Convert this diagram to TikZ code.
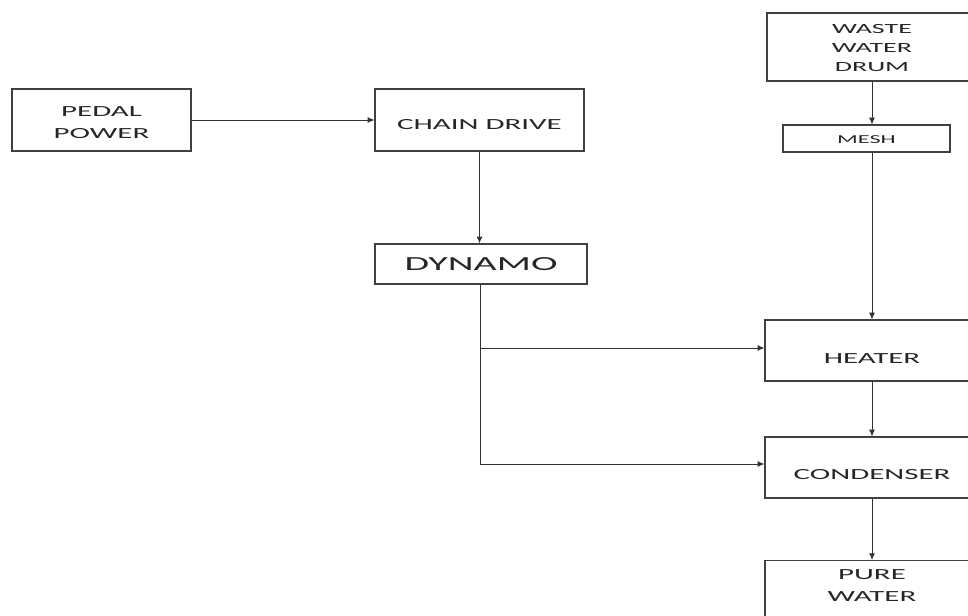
\documentclass[tikz,border=0pt]{standalone}
\usepackage{fontspec}
\setmainfont{Carlito}
\usepackage{graphicx}
\usetikzlibrary{arrows.meta}

% stretched caption text, as in the original drawing
\newcommand{\wtxt}[2][0pt]{\raisebox{-#1}[0pt][0pt]{\scalebox{2}[1]{\begin{tabular}{@{}c@{}}#2\end{tabular}}}}

\begin{document}
\begin{tikzpicture}[x=0.75pt,y=0.75pt,yscale=-1,xscale=1,
  blk/.style={draw=black!75, line width=0.9pt, inner sep=0pt, text=black!85,
    font=\fontsize{11.6}{16.5}\selectfont},
  flow/.style={draw=black!80, line width=0.7pt, -{Latex[length=5pt,width=4.5pt]}},
  feed/.style={draw=black!80, line width=0.7pt}]

\useasboundingbox (0,0) rectangle (968,615);
\clip (0,0) rectangle (968,615);

\node[blk, minimum width=134.25pt, minimum height=46.5pt] (pedal) at (101.5,120) {\wtxt[5.2pt]{PEDAL\\POWER}};
\node[blk, minimum width=156.75pt, minimum height=46.5pt] (chain) at (479.5,120) {\wtxt[6.7pt]{CHAIN DRIVE}};
\node[blk, minimum width=159pt, minimum height=30pt, font=\fontsize{15}{18}\selectfont] (dynamo) at (481,264) {\wtxt[4.5pt]{DYNAMO}};

\node[blk, minimum width=157.5pt, minimum height=51pt, font=\fontsize{10.5}{14.25}\selectfont] (drum) at (872,47) {\wtxt[3.75pt]{WASTE\\WATER\\DRUM}};
\node[blk, minimum width=125.25pt, minimum height=20.25pt, font=\fontsize{9.1}{11}\selectfont] (mesh) at (866.5,138.5) {\wtxt[4.1pt]{MESH}};
\node[blk, minimum width=160.5pt, minimum height=45.75pt] (heater) at (872,350.5) {\wtxt[9.7pt]{HEATER}};
\node[blk, minimum width=160.5pt, minimum height=45.75pt] (condenser) at (872,467.5) {\wtxt[8.9pt]{CONDENSER}};
\node[blk, minimum width=160.5pt, anchor=north, inner ysep=3pt, text height=0pt, text depth=45pt] (pure) at (872,560) {\wtxt[19.4pt]{PURE\\WATER}};

\coordinate (col) at (872,0);
\coordinate (tap) at (480,348);
\coordinate (low) at (480,464);

\draw[flow] (pedal) -- (chain);
\draw[flow] (chain.south) -- (chain.south |- dynamo.north);
\draw[feed] (dynamo.south -| tap) -- (low);
\draw[flow] (tap) -- (tap -| heater.west);
\draw[flow] (low) -- (low -| condenser.west);

\draw[flow] (drum.south -| col) -- (mesh.north -| col);
\draw[flow] (mesh.south -| col) -- (heater.north -| col);
\draw[flow] (heater) -- (condenser);
\draw[flow] (condenser) -- (pure);

\end{tikzpicture}
\end{document}
